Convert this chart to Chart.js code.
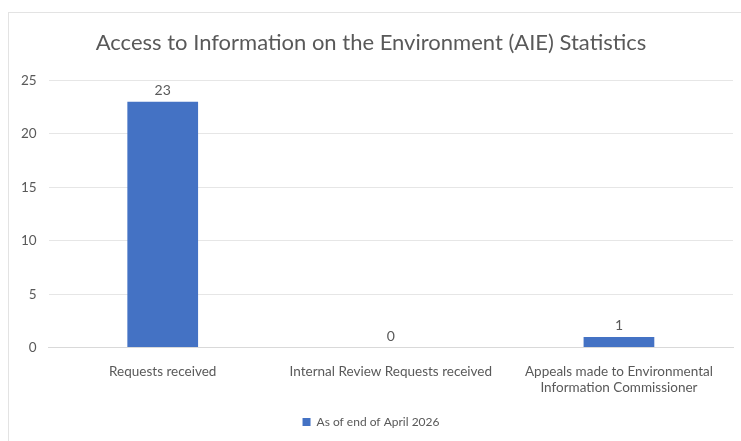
<!DOCTYPE html>
<html>
<head>
<meta charset="utf-8">
<script src="https://cdn.jsdelivr.net/npm/chart.js@4/dist/chart.umd.min.js"></script>
<style>
  html, body { margin: 0; padding: 0; background: #fff; }
  #frame {
    position: absolute; left: 8px; top: 12px; width: 733px; height: 429px;
    border-left: 1px solid #e3e3e3; border-top: 1px solid #e3e3e3;
  }
  #wrap { position: absolute; left: 0; top: 0; width: 741px; height: 441px; }
</style>
</head>
<body>
<div id="frame"></div>
<div id="wrap"><canvas id="aieChart"></canvas></div>
<script>
const categories = [
  'Requests received',
  'Internal Review Requests received',
  ['Appeals made to Environmental', 'Information Commissioner']
];
const seriesName = 'As of end of April 2026';
const seriesValues = [23, 0, 1];
const yTicks = [0, 5, 10, 15, 20, 25];

const FONT = 'Lato, "Open Sans", sans-serif';
const GREY = '#595959';

// draws the value above each bar
const valueLabels = {
  id: 'valueLabels',
  afterDatasetsDraw(chart) {
    const ctx = chart.ctx;
    ctx.save();
    ctx.font = '14px ' + FONT;
    ctx.fillStyle = GREY;
    ctx.textAlign = 'center';
    ctx.textBaseline = 'bottom';
    chart.getDatasetMeta(0).data.forEach(function(bar, i) {
      ctx.fillText(String(seriesValues[i]), bar.x, bar.y - 4);
    });
    ctx.restore();
  }
};

const ctxAie = document.getElementById('aieChart').getContext('2d');
new Chart(ctxAie, {
  type: 'bar',
  data: {
    labels: categories,
    datasets: [{
      label: seriesName,
      data: seriesValues,
      backgroundColor: '#4472C4',
      borderColor: '#4472C4',
      borderWidth: 0,
      categoryPercentage: 1,
      barPercentage: 0.31
    }]
  },
  options: {
    responsive: true,
    maintainAspectRatio: false,
    animation: false,
    layout: { padding: { left: 9, right: 8, top: 30, bottom: 3 } },
    plugins: {
      title: {
        display: true,
        text: 'Access to Information on the Environment (AIE) Statistics',
        color: GREY,
        font: { family: FONT, size: 22, weight: 'normal' },
        padding: { top: 0, bottom: 24 }
      },
      legend: {
        position: 'bottom',
        labels: {
          color: GREY,
          font: { family: FONT, size: 12 },
          boxWidth: 8,
          boxHeight: 8,
          padding: 12
        }
      },
      tooltip: { enabled: false }
    },
    scales: {
      x: {
        grid: { display: false },
        border: { color: '#d9d9d9' },
        ticks: { color: GREY, font: { family: FONT, size: 13.5 }, maxRotation: 0, padding: 8 }
      },
      y: {
        min: 0,
        max: 25,
        afterBuildTicks(axis) { axis.ticks = yTicks.map(v => ({ value: v })); },
        grid: { color: '#e6e6e6', drawTicks: false },
        border: { display: false },
        ticks: { color: GREY, font: { family: FONT, size: 13.5 }, padding: 12 }
      }
    }
  },
  plugins: [valueLabels]
});
</script>
</body>
</html>
